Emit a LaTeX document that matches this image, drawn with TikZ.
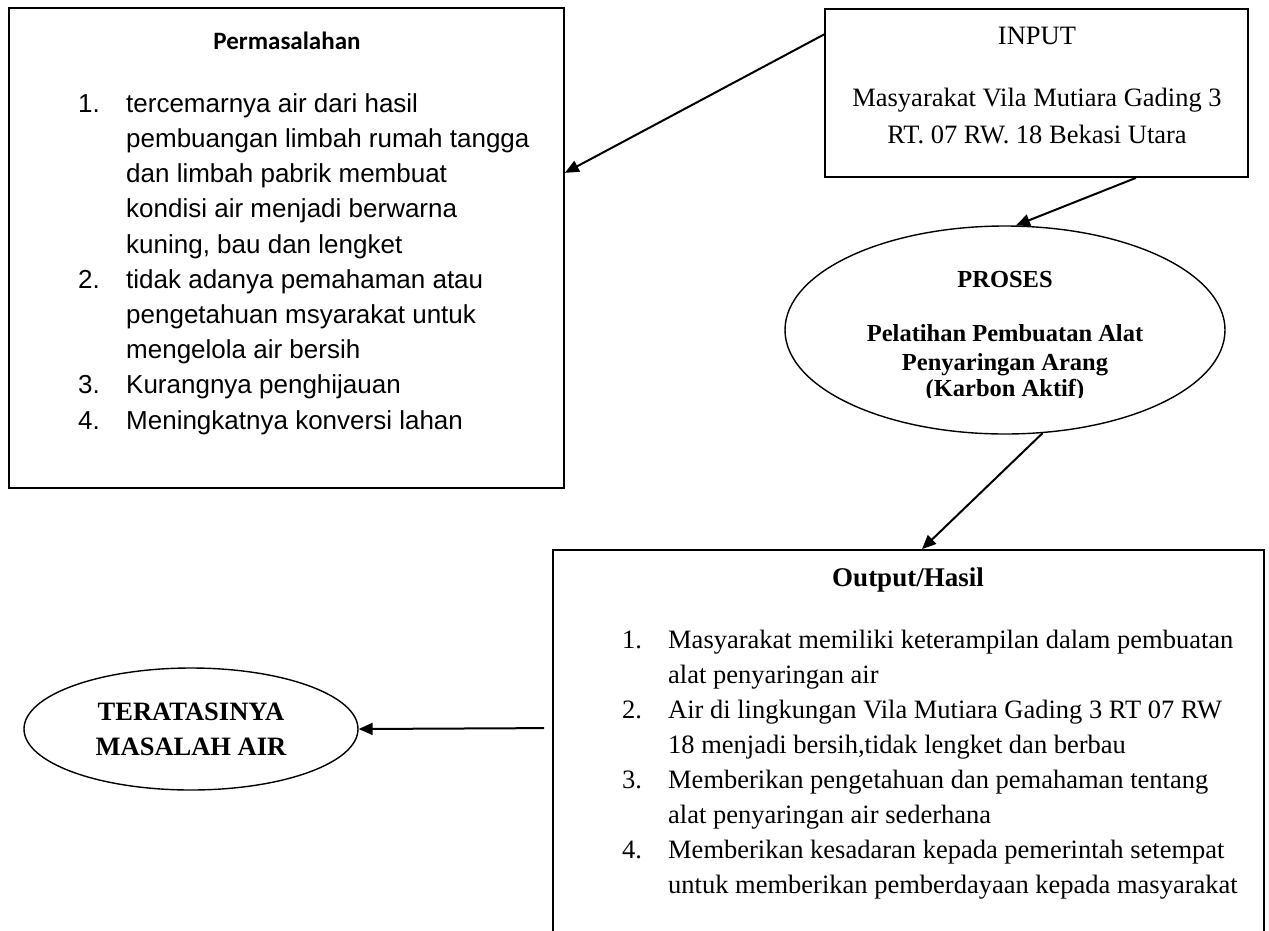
\documentclass[tikz,border=0pt]{standalone}
\usepackage{fontspec}
\setmainfont{Liberation Serif}
\newfontfamily\arialf{Liberation Sans}
\newfontfamily\calibrif{Carlito}
\usetikzlibrary{arrows.meta,shapes.geometric,calc}
\begin{document}
\begin{tikzpicture}[x=1pt,y=-1pt,
  box/.style={draw,line width=1.8pt,rectangle,inner sep=0pt},
  oval/.style={draw,line width=1.4pt,ellipse,inner sep=0pt},
  conn/.style={line width=2pt,-{Triangle[length=14pt,width=12pt]}},
  serifbig/.style={font=\fontsize{26.5}{35}\selectfont},
  serifbold/.style={font=\bfseries\fontsize{24.5}{29}\selectfont},
]
\useasboundingbox (0,0) rectangle (1269,930);
\clip (0,0) rectangle (1269,930);
\fill[white] (0,0) rectangle (1269,930);

% boxes
\node[box,minimum width=555pt,minimum height=480pt] (prob) at (286.5,248) {};
\node[box,minimum width=423pt,minimum height=168pt] (inp) at (1036.5,93) {};
\node[oval,minimum width=440pt,minimum height=208pt] (proc) at (1005,330) {};
\node[box,minimum width=711pt,minimum height=500pt] (out) at (908.5,800) {};
\node[oval,minimum width=334pt,minimum height=122pt] (res) at (191,729) {};

% Permasalahan
\node[anchor=base,inner sep=0pt,font=\calibrif\bfseries\fontsize{25}{29}\selectfont] (ptitle) at (287,49) {Permasalahan};
\node[anchor=north west,inner sep=0pt,font=\arialf\fontsize{26}{35.2}\selectfont] (plist) at (78,87.4) {%
\begin{tabular}{@{}p{48pt}@{}l@{}}
1. & tercemarnya air dari hasil\\
   & pembuangan limbah rumah tangga\\
   & dan limbah pabrik membuat\\
   & kondisi air menjadi berwarna\\
   & kuning, bau dan lengket\\
2. & tidak adanya pemahaman atau\\
   & pengetahuan msyarakat untuk\\
   & mengelola air bersih\\
3. & Kurangnya penghijauan\\
4. & Meningkatnya konversi lahan
\end{tabular}};

% Input
\node[anchor=base,inner sep=0pt,serifbig] (inp1) at (1037,44) {INPUT};
\node[anchor=base,inner sep=0pt,serifbig] (inp2) at (1037,106) {Masyarakat Vila Mutiara Gading 3};
\node[anchor=base,inner sep=0pt,serifbig] (inp3) at (1037,143) {RT. 07 RW. 18 Bekasi Utara};

% Proses
\node[anchor=base,inner sep=0pt,serifbold] (proc1) at (1005,287) {PROSES};
\node[anchor=base,inner sep=0pt,serifbold] (proc2) at (1005,341) {Pelatihan Pembuatan Alat};
\node[anchor=base,inner sep=0pt,serifbold] (proc3) at (1005,370) {Penyaringan Arang};
\begin{scope}
\clip (800,375) rectangle (1200,397.5);
\node[anchor=base,inner sep=0pt,serifbold] (proc4) at (1005,396) {(Karbon Aktif)};
\end{scope}

% Output
\node[anchor=base,inner sep=0pt,font=\bfseries\fontsize{27}{35}\selectfont] (otitle) at (908,586) {Output/Hasil};
\node[anchor=north west,inner sep=0pt,font=\fontsize{26.5}{35}\selectfont] (olist) at (622,623.5) {%
\begin{tabular}{@{}p{46pt}@{}l@{}}
1. & Masyarakat memiliki keterampilan dalam pembuatan\\
   & alat penyaringan air\\
2. & Air di lingkungan Vila Mutiara Gading 3 RT 07 RW\\
   & 18 menjadi bersih,tidak lengket dan berbau\\
3. & Memberikan pengetahuan dan pemahaman tentang\\
   & alat penyaringan air sederhana\\
4. & Memberikan kesadaran kepada pemerintah setempat\\
   & untuk memberikan pemberdayaan kepada masyarakat
\end{tabular}};

% Result
\node[anchor=base,inner sep=0pt,font=\bfseries\fontsize{26.5}{35}\selectfont] (res1) at (191,720) {TERATASINYA};
\node[anchor=base,inner sep=0pt,font=\bfseries\fontsize{26.5}{35}\selectfont] (res2) at (191,755) {MASALAH AIR};

% connectors
\coordinate (a1s) at ($(inp.north west)!0.155!(inp.south west)$);
\coordinate (a1e) at ($(prob.north east)!0.344!(prob.south east)$);
\draw[conn] (a1s) -- (a1e);
\coordinate (a2s) at ($(inp.south west)!0.734!(inp.south east)$);
\draw[conn] (a2s) -- (proc.84);
\coordinate (a3e) at ($(out.north west)!0.519!(out.north east)$);
\draw[conn] (proc.-70) -- (a3e);
\coordinate (a4s) at ($(out.north west)+(-8,179)$);
\draw[conn] (a4s) -- (res.east);
\end{tikzpicture}
\end{document}
